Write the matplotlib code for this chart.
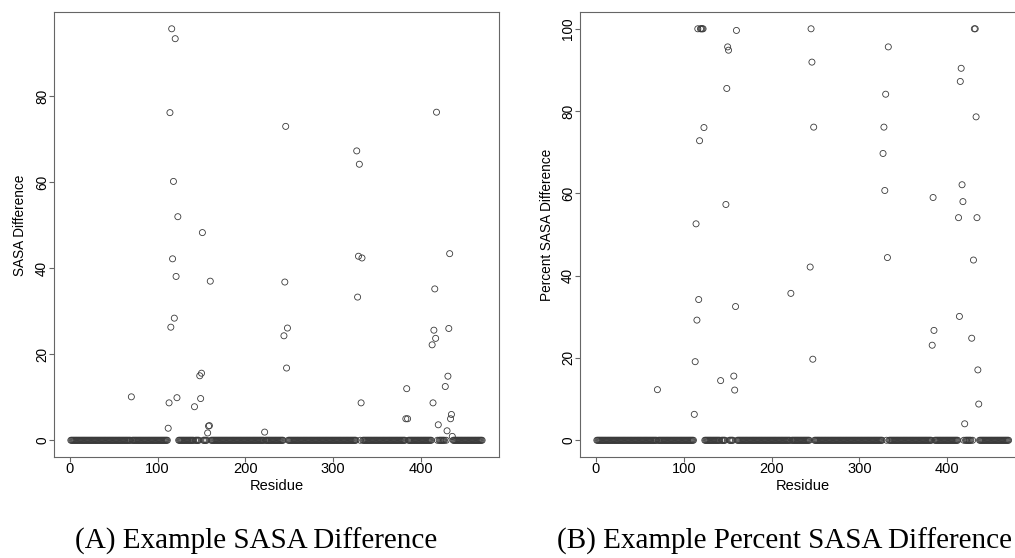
import numpy as np
import matplotlib
matplotlib.use("Agg")
import matplotlib.pyplot as plt

plt.rcParams['font.family'] = ['Liberation Sans', 'DejaVu Sans']

# residues 1..470, all zero except these
n_res = 470
hit_res = [70, 112, 113, 114, 115, 116, 117, 118, 119, 120, 121, 122, 123,
           142, 148, 149, 150, 151, 157, 158, 159, 160, 222,
           244, 245, 246, 247, 248, 327, 328, 329, 330, 332, 333,
           383, 384, 385, 413, 414, 415, 416, 417, 418, 420,
           428, 430, 431, 432, 433, 434, 435, 436]
sasa_diff = [10.1, 2.8, 8.7, 76.2, 26.3, 95.7, 42.2, 60.2, 28.4, 93.4, 38.1, 9.9, 52.0,
             7.8, 15.0, 9.7, 15.6, 48.3, 1.7, 3.3, 3.4, 37.0, 1.9,
             24.3, 36.8, 73.0, 16.8, 26.1, 67.3, 33.3, 42.8, 64.2, 8.7, 42.4,
             5.0, 12.0, 5.0, 22.2, 8.7, 25.6, 35.2, 23.7, 76.3, 3.6,
             12.5, 2.2, 14.9, 26.0, 43.4, 5.0, 6.0, 0.9]
pct_diff = [12.3, 6.3, 19.1, 52.6, 29.2, 100, 34.2, 72.8, 100, 100, 100, 100, 76.0,
            14.5, 57.3, 85.5, 95.6, 94.8, 15.6, 12.2, 32.5, 99.6, 35.7,
            42.1, 100, 91.9, 19.7, 76.1, 69.7, 76.1, 60.7, 84.1, 44.4, 95.6,
            23.1, 59.0, 26.7, 54.1, 30.1, 87.2, 90.4, 62.1, 58.0, 4.0,
            24.8, 43.8, 100, 100, 78.6, 54.1, 17.1, 8.8]

residue = np.arange(1, n_res + 1)
sasa = np.zeros(n_res)
pct = np.zeros(n_res)
sasa[np.array(hit_res) - 1] = sasa_diff
pct[np.array(hit_res) - 1] = pct_diff

fig = plt.figure(figsize=(10.15, 5.58), dpi=100)
ax1 = fig.add_axes([0.0536, 0.1815, 0.4376, 0.7964])
ax2 = fig.add_axes([0.5718, 0.1815, 0.4381, 0.7964])

panels = [(ax1, sasa, "SASA Difference", [0, 20, 40, 60, 80], -0.0624),
          (ax2, pct, "Percent SASA Difference", [0, 20, 40, 60, 80, 100], -0.0585)]

for ax, y, lab, yt, lx in panels:
    ax.scatter(residue, y, s=19, facecolors='none', edgecolors='#3a3a3a',
               linewidths=0.6, clip_on=False)
    pad = 0.04 * (y.max() - y.min())
    ax.set_ylim(y.min() - pad, y.max() + pad)
    ax.set_xlim(1 - 0.04 * (n_res - 1), n_res + 0.04 * (n_res - 1))
    ax.set_xticks([0, 100, 200, 300, 400])
    ax.set_yticks(yt)
    for s in ax.spines.values():
        s.set_color('#666666')
        s.set_linewidth(0.8)
    ax.tick_params(axis='x', length=3.3, width=0.8, color='#666666', pad=0.5,
                   labelsize=10.5)
    ax.tick_params(axis='y', length=3.3, width=0.8, color='#666666', pad=0.5,
                   labelsize=9.8, labelrotation=90)
    for t in ax.get_yticklabels():
        t.set_va('center')
    ax.set_xlabel("Residue", fontsize=10.5)
    ax.xaxis.set_label_coords(0.5, -0.0505)
    ax.set_ylabel(lab, fontsize=9.8)
    ax.yaxis.set_label_coords(lx, 0.5214)

fig.text(75 / 1015, 9 / 558, "(A) Example SASA Difference", family='Liberation Serif',
         fontsize=21, ha='left', va='baseline')
fig.text(557 / 1015, 9 / 558, "(B) Example Percent SASA Difference",
         family='Liberation Serif', fontsize=21, ha='left', va='baseline')

fig.savefig("out.png", dpi=100)
